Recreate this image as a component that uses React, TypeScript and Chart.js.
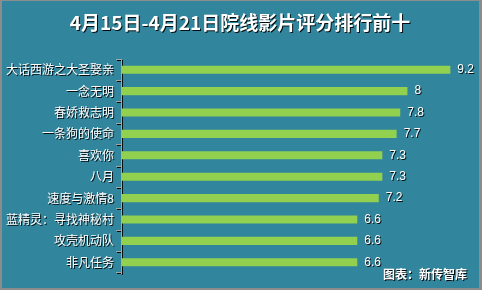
import React, { useEffect, useRef } from "react";
import { Chart, registerables } from "chart.js";

Chart.register(...registerables);

const TITLE = "4月15日-4月21日院线影片评分排行前十";
const SOURCE = "图表：新传智库";
const categories = [
  "大话西游之大圣娶亲",
  "一念无明",
  "春娇救志明",
  "一条狗的使命",
  "喜欢你",
  "八月",
  "速度与激情8",
  "蓝精灵：寻找神秘村",
  "攻壳机动队",
  "非凡任务",
];
const scores = [9.2, 8, 7.8, 7.7, 7.3, 7.3, 7.2, 6.6, 6.6, 6.6];

const BG = "#31859C";
const BAR = "#92D050";

export default function App() {
  const ref = useRef<HTMLCanvasElement | null>(null);
  useEffect(() => {
    document.body.style.margin = "0";
    const canvas = ref.current!;
    const shadowPlugin = {
      id: "shadowText",
      beforeDraw(chart: any) {
        const ctx = chart.ctx;
        ctx.shadowColor = "rgba(0,0,0,0.9)";
        ctx.shadowOffsetX = 1;
        ctx.shadowOffsetY = 1;
        ctx.shadowBlur = 0;
      },
      beforeDatasetsDraw(chart: any) {
        const ctx = chart.ctx;
        ctx.shadowColor = "rgba(0,0,0,0)";
        ctx.shadowOffsetX = 0;
        ctx.shadowOffsetY = 0;
      },
      afterDatasetsDraw(chart: any) {
        const ctx = chart.ctx;
        ctx.save();
        ctx.shadowColor = "rgba(0,0,0,0.9)";
        ctx.shadowOffsetX = 1;
        ctx.shadowOffsetY = 1;
        ctx.fillStyle = "#ffffff";
        ctx.font = "12px 'Liberation Sans', Arial, sans-serif";
        ctx.textAlign = "left";
        ctx.textBaseline = "middle";
        const meta = chart.getDatasetMeta(0);
        meta.data.forEach((bar: any, i: number) => {
          ctx.fillText(String(scores[i]), bar.x + 7, bar.y);
        });
        ctx.font = "bold 19px 'Noto Sans CJK SC', sans-serif";
        ctx.textAlign = "center";
        ctx.fillText(TITLE, chart.width / 2 - 1, 23);
        ctx.font = "bold 12px 'Noto Sans CJK SC', sans-serif";
        ctx.textAlign = "right";
        ctx.fillText(SOURCE, chart.width - 15, 274);
        ctx.restore();
      },
    };
    const chart = new Chart(canvas, {
      type: "bar",
      data: {
        labels: categories,
        datasets: [
          {
            data: scores,
            backgroundColor: BAR,
            borderWidth: 0,
            barPercentage: 0.38,
            categoryPercentage: 1,
          },
        ],
      },
      options: {
        indexAxis: "y",
        responsive: false,
        animation: false,
        layout: { padding: { top: 59, bottom: 17, left: 0, right: 3 } },
        plugins: {
          legend: { display: false },
          tooltip: { enabled: false },
          title: { display: false },
        },
        scales: {
          x: {
            display: false,
            min: 0,
            max: 10,
          },
          y: {
            afterFit(scale: any) {
              scale.width = 121;
            },
            offset: true,
            grid: {
              display: true,
              drawOnChartArea: false,
              drawTicks: true,
              tickLength: 5,
              color: "#a6a6a6",
              offset: true,
            },
            border: { display: true, color: "#a6a6a6", width: 1 },
            ticks: {
              color: "#ffffff",
              padding: 2,
              font: { size: 12, family: "'Noto Sans CJK SC', sans-serif" },
              autoSkip: false,
            },
          },
        },
      },
      plugins: [shadowPlugin],
    });
    return () => chart.destroy();
  }, []);
  return (
    <div style={{ position: "relative", width: 482, height: 290, background: BG }}>
      <canvas ref={ref} width={482} height={290} style={{ position: "absolute", left: 0, top: 0 }} />
      <div
        style={{
          position: "absolute",
          inset: 0,
          boxSizing: "border-box",
          borderStyle: "solid",
          borderColor: "#8c8c8c",
          borderWidth: "1px 3px 2px 2px",
          pointerEvents: "none",
        }}
      />
    </div>
  );
}
